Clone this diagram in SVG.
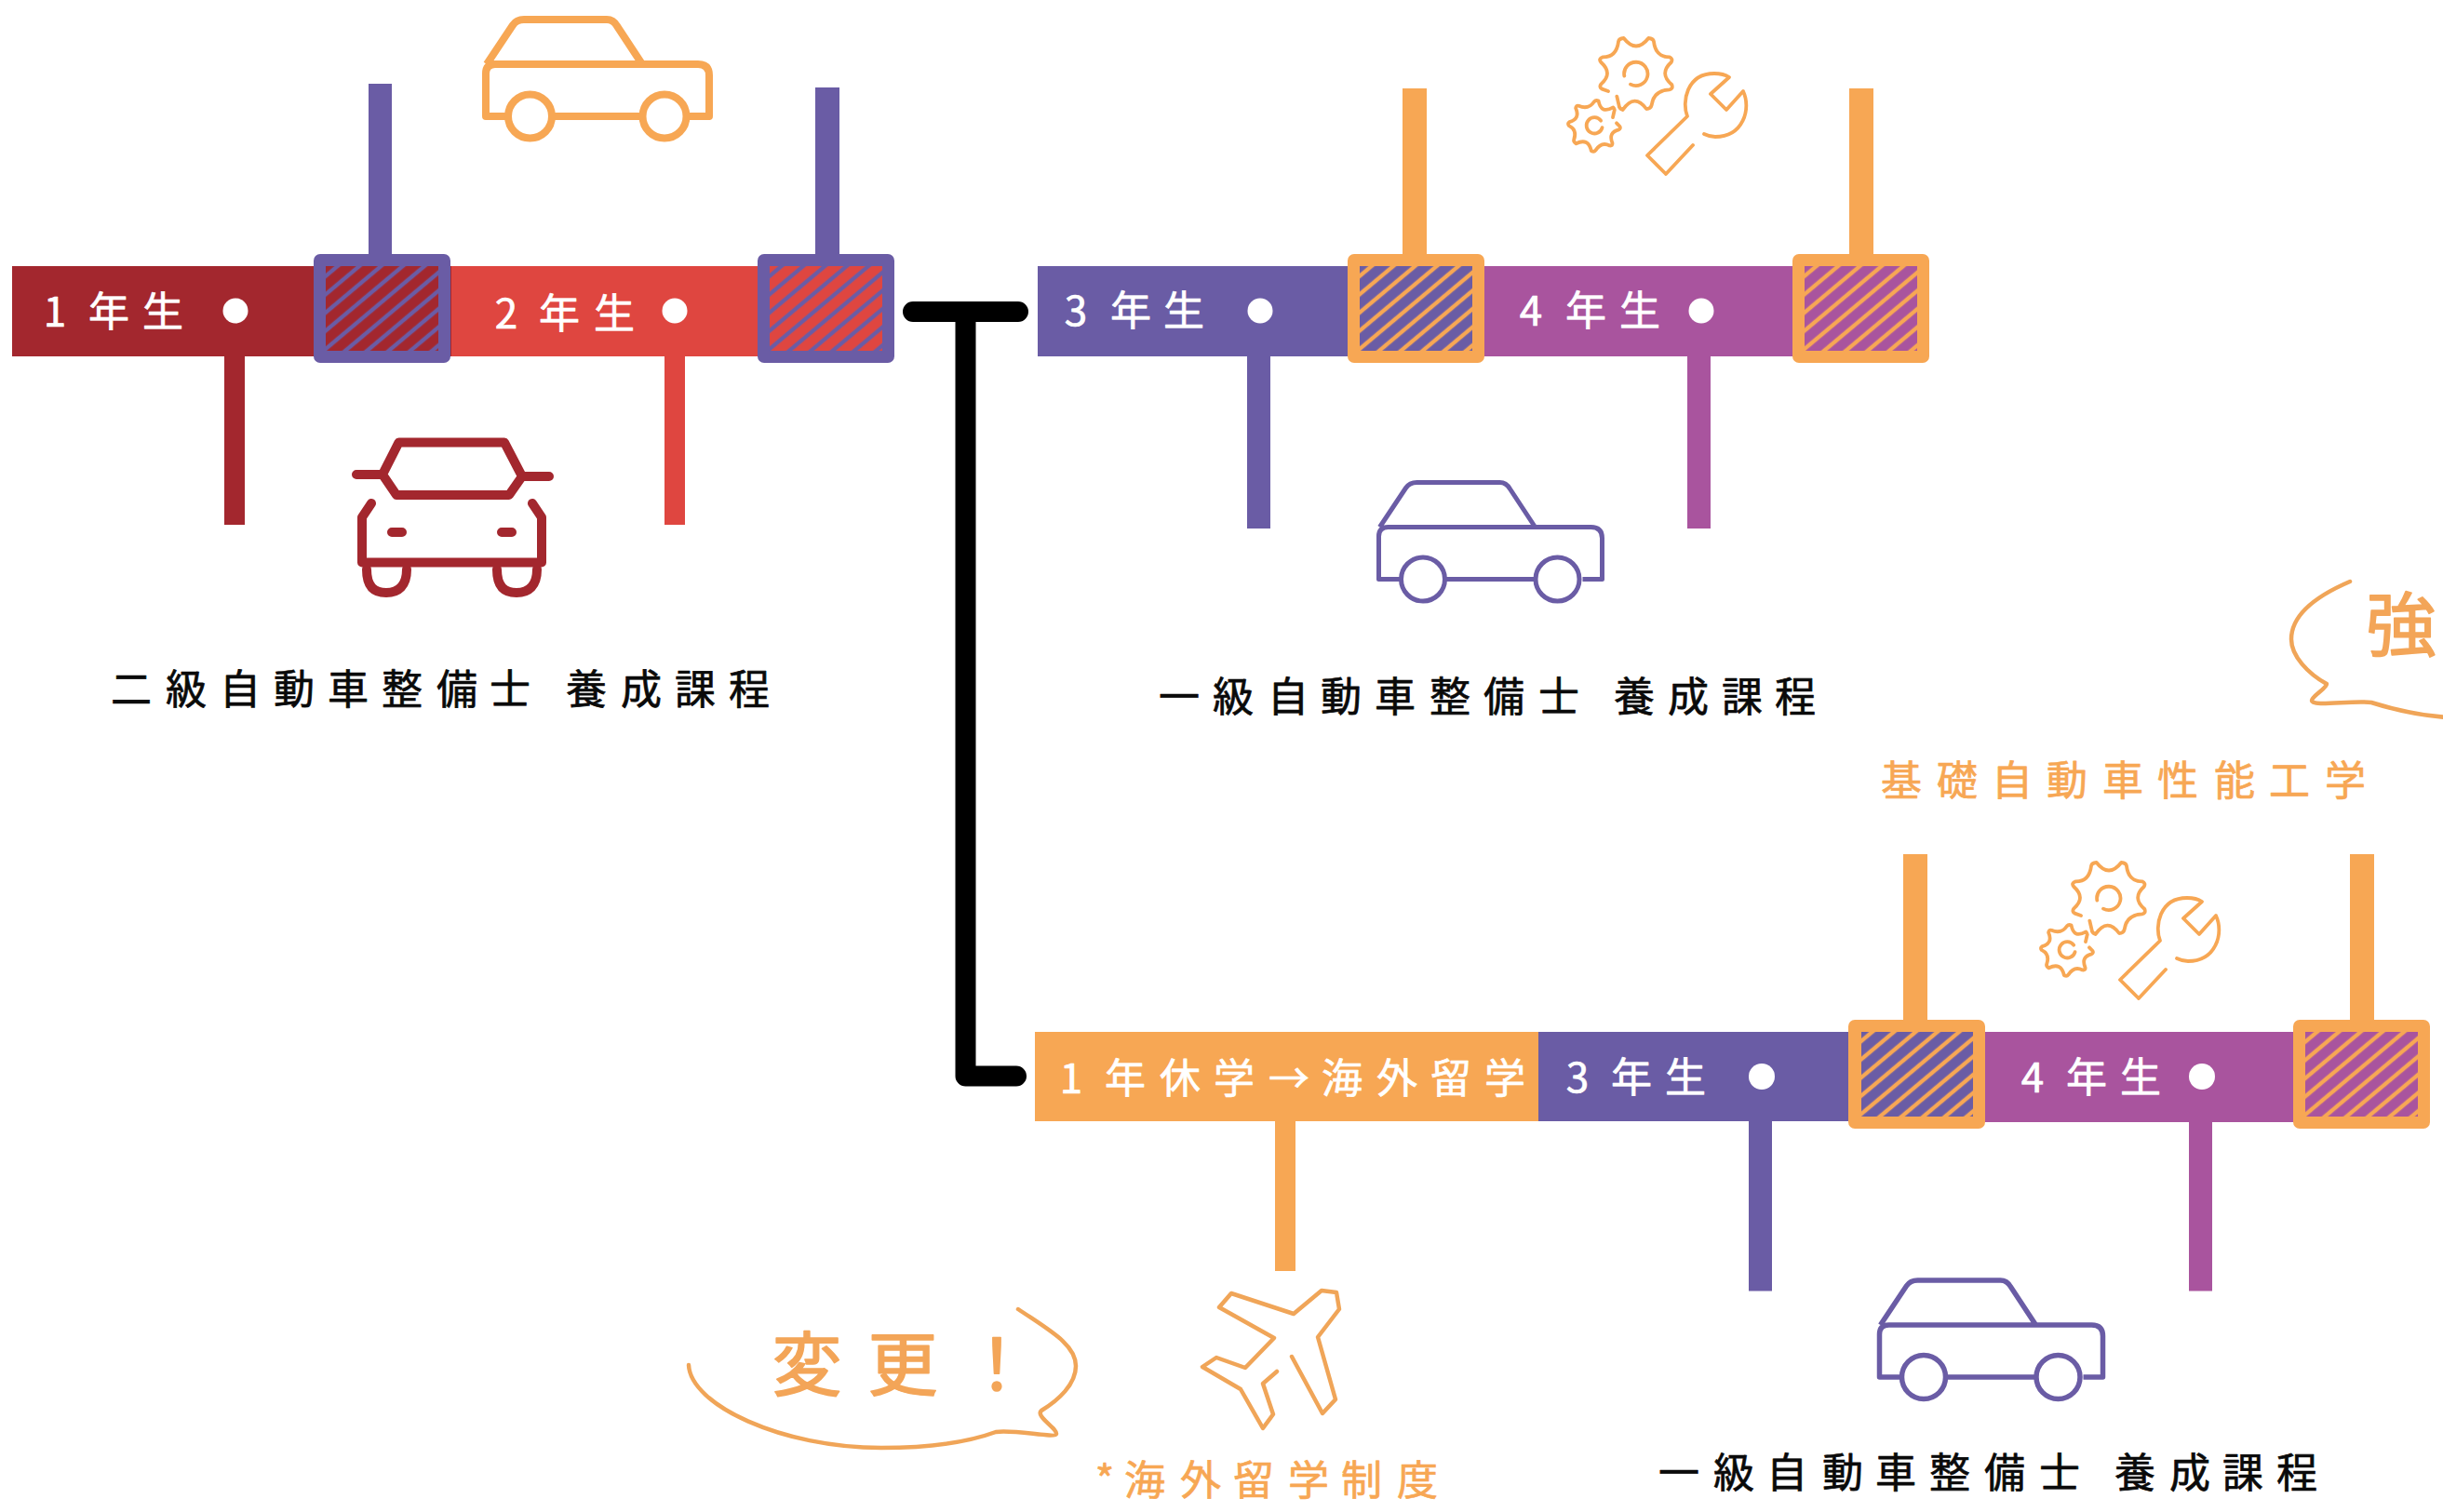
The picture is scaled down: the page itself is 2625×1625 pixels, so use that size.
<svg xmlns="http://www.w3.org/2000/svg" xmlns:xlink="http://www.w3.org/1999/xlink" width="2625" height="1625" viewBox="0 0 2625 1625">
<style>
text{font-family:"Noto Sans CJK JP","Noto Sans CJK SC",sans-serif;text-anchor:middle;stroke-linejoin:round}
.t{font-size:44px;stroke-width:.7px}
.w{fill:#fff;stroke:#fff}.k{fill:#0a0a0a;stroke:#0a0a0a}.o{fill:#f7a754;stroke:#f7a754}
.big{font-size:75px;fill:#f3a558;stroke:#f3a558;stroke-width:1.6px}
.dr{fill:#a3272e}.rd{fill:#df4640}.pu{fill:#6a5ca5}.or{fill:#a9549e}.og{fill:#f7a754}
.line{fill:none;stroke-linecap:round;stroke-linejoin:round}
.car{fill:none;stroke-linejoin:round}
.tool{fill:none;stroke:#f7a754;stroke-width:3.8;stroke-linecap:round;stroke-linejoin:round}
.bub{fill:none;stroke:#f0a558;stroke-width:4.5;stroke-linecap:round;stroke-linejoin:round}
</style>
<defs>
<pattern id="hp" patternUnits="userSpaceOnUse" width="15" height="15" patternTransform="translate(0,15) rotate(-40)"><rect width="15" height="2.2" fill="#6a5ca5"/><rect y="12.8" width="15" height="2.2" fill="#6a5ca5"/></pattern>
<pattern id="ho" patternUnits="userSpaceOnUse" width="15" height="15" patternTransform="translate(0,15) rotate(-40)"><rect width="15" height="2.2" fill="#f7a754"/><rect y="12.8" width="15" height="2.2" fill="#f7a754"/></pattern>
<g id="carShape">
<path d="M23.5 104H0V58Q0 48 10 48H228Q240 48 240 60V104H219M71 104H168.500M1 48L29 6Q33 0 41 0H130Q137 0 141 7L168 48"/>
<circle cx="47.500" cy="104" r="23.500"/><circle cx="192" cy="104" r="23.500"/>
</g>
<path id="gear" vector-effect="non-scaling-stroke" d="M-90 57L-110 50Q-120 44 -113 34Q-73 0 -113 -36Q-123 -48 -107 -53Q-63 -53 -57 -103Q-55 -113 -40 -114Q0 -63 40 -114Q55 -113 57 -103Q63 -53 107 -53Q120 -48 113 -36Q73 0 115 36Q120 50 107 52Q57 54 50 102Q47 114 33 114Q-5 62 -43 117Q-55 112 -55 104L-62 74M-38 8A38 38 0 1 1 -18 35"/>
<g id="tools">
<use xlink:href="#gear" href="#gear" transform="translate(1758,79) scale(.3333)"/>
<use xlink:href="#gear" href="#gear" transform="translate(1713,135) rotate(-154) scale(.2267)"/>
<path d="M1819 156L1790 187L1770 167L1813 125C1807 110 1812 79 1842 79Q1852 79 1858 83L1838 101L1855 118L1873 98C1882 117 1873 147 1843 147Q1837 147 1831 144"/>
</g>
</defs>

<g id="connectors">
<path d="M981 335H1094M1037.500 335V1156.500H1092" fill="none" stroke="#000" stroke-width="22" stroke-linecap="round" stroke-linejoin="round"/>
<g class="pu"><rect x="396" y="90" width="25" height="190"/><rect x="876" y="94" width="26" height="186"/><rect x="1340" y="380" width="25" height="188"/><rect x="1879" y="1200" width="25" height="187.500"/></g>
<g class="og"><rect x="1507" y="95" width="26" height="185"/><rect x="1987" y="95" width="26" height="185"/><rect x="2045" y="918" width="26" height="185"/><rect x="2525" y="918" width="26" height="185"/><rect x="1370" y="1200" width="22" height="166"/></g>
<rect class="dr" x="241" y="380" width="22" height="184"/>
<rect class="rd" x="714" y="380" width="22" height="184"/>
<g class="or"><rect x="1813" y="380" width="25" height="188"/><rect x="2352" y="1200" width="25" height="187.500"/></g>
</g>

<g id="course-level2">
<g id="y1"><rect class="dr" x="13" y="286" width="472" height="97"/>
<text class="t w" x="59 117 175" y="351">1年生</text><circle cx="253" cy="334" r="13.500" fill="#fff"/></g>
<g id="box1" transform="translate(337,273)"><rect width="147" height="117" rx="7" class="pu"/><rect x="13" y="13" width="121" height="91" class="dr"/><rect x="13" y="13" width="121" height="91" fill="url(#hp)"/></g>
<g id="y2"><rect class="rd" x="485" y="286" width="340" height="97"/>
<text class="t w" x="544 601 660" y="353">2年生</text><circle cx="725" cy="334" r="13.500" fill="#fff"/></g>
<g id="box2" transform="translate(814,273)"><rect width="147" height="117" rx="7" class="pu"/><rect x="13" y="13" width="121" height="91" class="rd"/><rect x="13" y="13" width="121" height="91" fill="url(#hp)"/></g>
<g id="car-orange"><use xlink:href="#carShape" href="#carShape" class="car" stroke="#f7a754" stroke-width="8" transform="translate(522,21)"/></g>
<g id="car-front" class="line" stroke="#a3272e" stroke-width="10">
<path d="M428.500 475.500H542L561 512L547 532H426L411 510ZM411 510H383M561 512H590M399 541L389 556V604.500H582V556L572 541M421 572H432M539 572H550M394 612C394 630 402 637 415 637C428 637 437 630 437 612M534 612C534 630 542 637 555 637C568 637 577 630 577 612"/>
</g>
<text id="label-level2" class="t k" x="141 200 258 316 374 432 491 548 589 630 689 747 805" y="757">二級自動車整備士 養成課程</text>
</g>

<g id="course-level1">
<g id="y3"><rect class="pu" x="1115" y="286" width="340" height="97"/>
<text class="t w" x="1156 1215 1272" y="350">3年生</text><circle cx="1354" cy="334" r="13.500" fill="#fff"/></g>
<g id="box3" transform="translate(1448,273)"><rect width="147" height="117" rx="7" class="og"/><rect x="13" y="13" width="121" height="91" class="pu"/><rect x="13" y="13" width="121" height="91" fill="url(#ho)"/></g>
<g id="y4"><rect class="or" x="1595" y="286" width="340" height="97"/>
<text class="t w" x="1645 1704 1762" y="350">4年生</text><circle cx="1828" cy="334" r="13.500" fill="#fff"/></g>
<g id="box4" transform="translate(1926,273)"><rect width="147" height="117" rx="7" class="og"/><rect x="13" y="13" width="121" height="91" class="or"/><rect x="13" y="13" width="121" height="91" fill="url(#ho)"/></g>
<g id="tools1" class="tool"><use xlink:href="#tools" href="#tools"/></g>
<g id="car-purple1"><use xlink:href="#carShape" href="#carShape" class="car" stroke="#6a5ca5" stroke-width="5" transform="translate(1481.500,518.500)"/></g>
<text id="label-level1" class="t k" x="1267 1325 1384 1441 1499 1558 1616 1675 1715 1756 1814 1872 1929" y="765">一級自動車整備士 養成課程</text>
</g>

<g id="course-abroad">
<g id="y1-abroad"><rect class="og" x="1112" y="1109" width="541" height="96"/>
<text class="t w" x="1151 1209 1268 1326 1385 1442 1501 1559 1617" y="1175">1年休学→海外留学</text></g>
<g id="y3-abroad"><rect class="pu" x="1653" y="1109" width="340" height="96"/>
<text class="t w" x="1695 1753 1811" y="1174">3年生</text><circle cx="1893" cy="1157" r="14" fill="#fff"/></g>
<g id="box5" transform="translate(1986,1096)"><rect width="147" height="117" rx="7" class="og"/><rect x="14" y="13" width="120" height="91" class="pu"/><rect x="14" y="13" width="120" height="91" fill="url(#ho)"/></g>
<g id="y4-abroad"><rect class="or" x="2133" y="1109" width="340" height="97"/>
<text class="t w" x="2184 2242 2300" y="1174">4年生</text><circle cx="2366" cy="1157" r="14" fill="#fff"/></g>
<g id="box6" transform="translate(2464,1096)"><rect width="147" height="117" rx="7" class="og"/><rect x="13" y="13" width="121" height="91" class="or"/><rect x="13" y="13" width="121" height="91" fill="url(#ho)"/></g>
<g id="tools2" class="tool"><use xlink:href="#tools" href="#tools" transform="translate(508,886)"/></g>
<g id="car-purple2"><use xlink:href="#carShape" href="#carShape" class="car" stroke="#6a5ca5" stroke-width="5.500" transform="translate(2019.500,1376)"/></g>
<text id="label-abroad" class="t k" x="1804 1863 1920 1980 2037 2095 2154 2213 2254 2294 2353 2410 2468" y="1599">一級自動車整備士 養成課程</text>
<text id="label-basic" class="t o" x="2043 2103 2162 2221 2281 2340 2401 2460 2520" y="855">基礎自動車性能工学</text>
<g id="plane"><path class="bub" d="M1388 1458L1421 1519L1435 1504L1416 1437L1439 1407L1436 1389L1420 1387L1390 1412L1323 1390L1310 1405L1369 1438L1338 1470L1307 1459L1292 1469L1333 1493L1357 1535L1368 1520L1357 1487L1372 1474"/></g>
<text id="label-study" class="t o" x="1187 1230 1290 1347 1406 1463 1523" y="1607">*海外留学制度</text>
</g>

<g id="bubble-change"><path class="bub" d="M1094 1407C1128 1430 1156 1445 1156 1468C1156 1488 1137 1505 1119 1516C1112 1522 1136 1535 1135 1541C1134 1546 1090 1536 1070 1539C1040 1550 1000 1556 947 1556C840 1556 742 1510 740 1467"/>
<text class="big" x="867 970 1071" y="1494">変更！</text></g>
<g id="bubble-strong"><path class="bub" d="M2525 625C2490 640 2462 660 2462 687C2462 705 2480 724 2500 735C2500 740 2484 748 2484 753C2484 760 2530 752 2548 755C2570 762 2600 769 2630 771"/>
<text class="big" x="2580" y="699">強</text></g>
</svg>
